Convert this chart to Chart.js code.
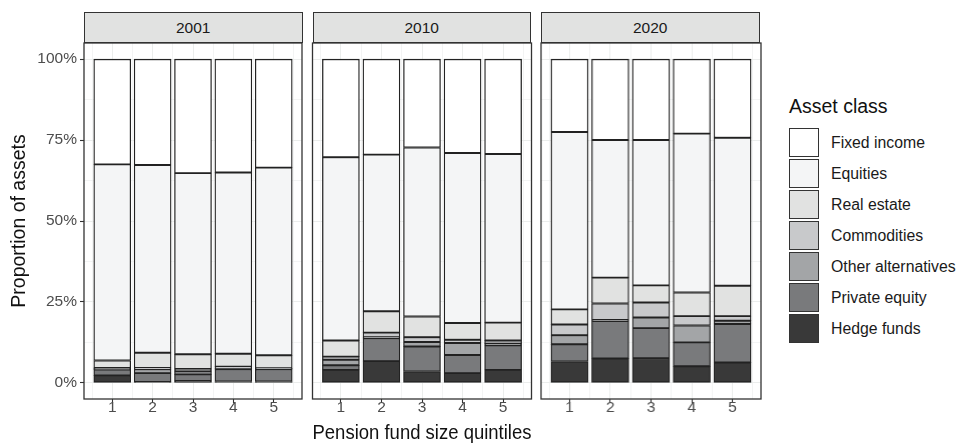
<!DOCTYPE html>
<html lang="en">
<head>
<meta charset="UTF-8">
<title>Asset class by pension fund size</title>
<script src="https://cdn.jsdelivr.net/npm/chart.js"></script>
<style>
  body { margin: 0; width: 959px; height: 444px; background: #fff; position: relative; overflow: hidden;
         font-family: "Liberation Sans", Arial, Helvetica, sans-serif; }
  .panel { position: absolute; top: 41px; height: 403px; }
  .strip { position: absolute; top: 12px; height: 31px; box-sizing: border-box; border: 1.3px solid #333;
           background: #e1e2e1; color: #1a1a1a; font-size: 15.5px; line-height: 29px; text-align: center; }
  #legend { position: absolute; left: 789px; top: 94px; }
  #legend .title { font-size: 19.5px; line-height: 24px; color: #111; margin-bottom: 9px; }
  #legend .row { display: flex; align-items: center; height: 31px; }
  #legend .key { width: 30px; height: 29px; box-sizing: border-box; border: 1.3px solid #333; margin-right: 12px; }
  #legend .lab { font-size: 15.8px; color: #1a1a1a; }
</style>
</head>
<body>
<div class="strip" style="left:84px;width:218.5px">2001</div>
<div class="strip" style="left:312.5px;width:218.5px">2010</div>
<div class="strip" style="left:541px;width:218.5px">2020</div>

<div class="panel" style="left:0px;width:305px"><canvas id="c2001"></canvas></div>
<div class="panel" style="left:310px;width:224px"><canvas id="c2010"></canvas></div>
<div class="panel" style="left:538px;width:224.5px"><canvas id="c2020"></canvas></div>

<div id="legend"></div>

<script>
// facets and x categories
const years = ['2001', '2010', '2020'];
const quintiles = [1, 2, 3, 4, 5];

// asset class shares (%), per year, quintiles 1..5
const hedgeFunds    = { '2001': [2.3, 0.3, 0.6, 0.4, 0.4], '2010': [4.0, 6.7, 3.5, 3.0, 4.0], '2020': [6.6, 7.5, 7.6, 5.1, 6.3] };
const privateEquity = { '2001': [1.8, 2.7, 2.0, 3.8, 3.8], '2010': [1.4, 7.1, 7.7, 5.6, 7.6], '2020': [5.3, 11.6, 9.3, 7.4, 11.9] };
const otherAlts     = { '2001': [0.3, 1.2, 1.0, 0.2, 0.2], '2010': [1.7, 0.3, 1.4, 3.7, 0.5], '2020': [2.8, 0.3, 3.3, 5.2, 1.0] };
const commodities   = { '2001': [0.2, 0.4, 0.7, 0.6, 0.1], '2010': [1.0, 1.4, 1.5, 1.0, 1.0], '2020': [3.3, 5.1, 4.6, 2.9, 1.4] };
const realEstate    = { '2001': [2.3, 4.7, 4.5, 4.0, 4.0], '2010': [5.0, 6.6, 6.4, 5.2, 5.5], '2020': [4.7, 8.0, 5.3, 7.3, 9.4] };
const equities      = { '2001': [60.6, 58.0, 56.0, 56.0, 58.0], '2010': [56.6, 48.4, 52.2, 52.5, 52.1], '2020': [54.8, 42.5, 44.9, 49.1, 45.7] };
const fixedIncome   = { '2001': [32.5, 32.7, 35.2, 35.0, 33.5], '2010': [30.3, 29.5, 27.3, 29.0, 29.3], '2020': [22.5, 25.0, 25.0, 23.0, 24.3] };

// stacking order: first = bottom
const classes = [
  { label: 'Hedge funds',        data: hedgeFunds,    color: '#393939' },
  { label: 'Private equity',     data: privateEquity, color: '#797a7c' },
  { label: 'Other alternatives', data: otherAlts,     color: '#a3a5a7' },
  { label: 'Commodities',        data: commodities,   color: '#c8c9cb' },
  { label: 'Real estate',        data: realEstate,    color: '#e1e2e1' },
  { label: 'Equities',           data: equities,      color: '#f4f5f6' },
  { label: 'Fixed income',       data: fixedIncome,   color: '#ffffff' }
];

const yTicks = [0, 12.5, 25, 37.5, 50, 62.5, 75, 87.5, 100];
const xTicks = [0.5, 1, 1.5, 2, 2.5, 3, 3.5, 4, 4.5, 5, 5.5];
const FONT = '"Liberation Sans", Arial, Helvetica, sans-serif';

const isMajorX = c => !!c.tick && Number.isInteger(c.tick.value);
const isMajorY = c => !!c.tick && c.tick.value % 25 === 0;

const panelBorder = {
  id: 'panelBorder',
  afterDraw(chart) {
    const a = chart.chartArea, ctx = chart.ctx;
    ctx.save();
    ctx.strokeStyle = '#333';
    ctx.lineWidth = 1.3;
    ctx.strokeRect(a.left, a.top, a.right - a.left, a.bottom - a.top);
    ctx.restore();
  }
};

function noPad(s) {
  s.paddingTop = 0; s.paddingBottom = 0; s.paddingLeft = 0; s.paddingRight = 0;
}

function makeChart(year, idx) {
  const first = idx === 0;
  const pad = [{ top: 2, left: 0, right: 3 }, { top: 2, left: 2.5, right: 2.5 }, { top: 2, left: 3, right: 2.5 }][idx];
  new Chart(document.getElementById('c' + year), {
    type: 'bar',
    data: {
      datasets: classes.map(c => ({
        label: c.label,
        data: quintiles.map((q, i) => ({ x: q, y: c.data[year][i] })),
        backgroundColor: c.color,
        borderColor: '#222',
        borderWidth: 1.3,
        borderSkipped: false,
        barThickness: 37
      }))
    },
    options: {
      responsive: true,
      maintainAspectRatio: false,
      animation: false,
      layout: { padding: pad },
      plugins: { legend: { display: false }, tooltip: { enabled: false } },
      scales: {
        x: {
          type: 'linear',
          stacked: true,
          offset: false,
          min: 0.3,
          max: 5.7,
          afterBuildTicks: s => { s.ticks = xTicks.map(v => ({ value: v })); },
          afterFit: s => { s.height = 45; noPad(s); },
          border: { display: false },
          grid: {
            offset: false,
            color: '#ebedec',
            lineWidth: c => isMajorX(c) ? 1 : 0.6,
            tickColor: c => isMajorX(c) ? '#333' : 'rgba(0,0,0,0)',
            tickLength: 4,
            tickWidth: 1.1
          },
          ticks: {
            autoSkip: false,
            maxRotation: 0,
            padding: -5,
            color: '#4d4d4d',
            font: { family: FONT, size: 15.5 },
            callback: v => Number.isInteger(v) ? String(v) : ''
          },
          title: {
            display: idx === 1,
            text: 'Pension fund size quintiles',
            color: '#111',
            font: { family: FONT, size: 19.5 },
            padding: { top: 0, bottom: -1 }
          }
        },
        y: {
          stacked: true,
          min: -5,
          max: 105,
          afterBuildTicks: s => { s.ticks = yTicks.map(v => ({ value: v })); },
          afterFit: s => { s.width = first ? 84 : 0; noPad(s); },
          border: { display: false },
          grid: {
            color: '#ebedec',
            lineWidth: c => isMajorY(c) ? 1 : 0.6,
            drawTicks: first,
            tickColor: c => isMajorY(c) ? '#333' : 'rgba(0,0,0,0)',
            tickLength: 4,
            tickWidth: 1.1
          },
          ticks: {
            display: first,
            padding: 3,
            color: '#4d4d4d',
            font: { family: FONT, size: 15.5 },
            callback: v => v % 25 === 0 ? v + '%' : ''
          },
          title: {
            display: first,
            text: 'Proportion of assets',
            color: '#111',
            font: { family: FONT, size: 19.5 },
            padding: { top: 8, bottom: 0 }
          }
        }
      }
    },
    plugins: [panelBorder]
  });
}

// legend, top entry = top of the stack
const legend = document.getElementById('legend');
legend.innerHTML = '<div class="title">Asset class</div>' +
  classes.slice().reverse().map(c =>
    '<div class="row"><div class="key" style="background:' + c.color + '"></div><div class="lab">' + c.label + '</div></div>'
  ).join('');

years.forEach(makeChart);
</script>
</body>
</html>
